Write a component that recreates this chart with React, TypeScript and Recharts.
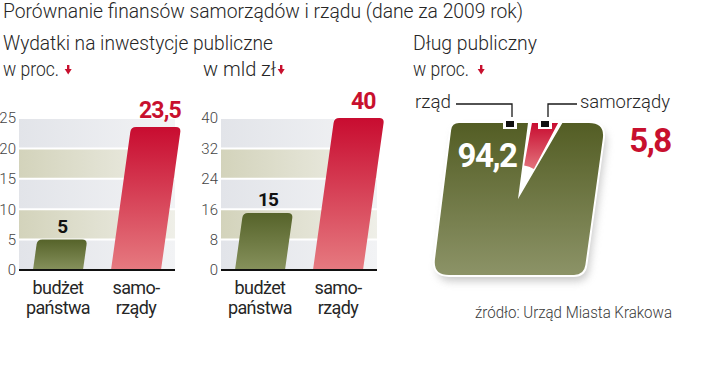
import { Bar, BarChart, CartesianGrid, Cell, LabelList, Pie, PieChart, XAxis, YAxis } from "recharts";

const CATEGORIES = ["budżet państwa", "samorządy"];
const CATEGORY_LINES = [["budżet", "państwa"], ["samo-", "rządy"]];
const SHARE_VALUES = [5, 23.5];
const SHARE_TICKS = [0, 5, 10, 15, 20, 25];
const AMOUNT_VALUES = [15, 40];
const AMOUNT_TICKS = [0, 8, 16, 24, 32, 40];
const DEBT_NAMES = ["samorządy", "rząd"];
const DEBT_VALUES = [5.8, 94.2];

const RED = "#c8102e";
const INK = "#262626";
const FONT = "Roboto, 'Liberation Sans', sans-serif";
const SKEW = 0.14;

const shareData = CATEGORIES.map((name, i) => ({ name, value: SHARE_VALUES[i] }));
const amountData = CATEGORIES.map((name, i) => ({ name, value: AMOUNT_VALUES[i] }));
const debtData = DEBT_NAMES.map((name, i) => ({ name, value: DEBT_VALUES[i] }));

const fmt = (v: number) => String(v).replace(".", ",");

// rounded polygon, used for the tilted "pie" tile
function roundedPath(pts: number[][], radii: number[], ox = 0, oy = 0) {
  const n = pts.length;
  let d = "";
  for (let i = 0; i < n; i++) {
    const [cx, cy] = pts[i];
    const [px, py] = pts[(i - 1 + n) % n];
    const [nx, ny] = pts[(i + 1) % n];
    const r = radii[i];
    const l1 = Math.hypot(px - cx, py - cy);
    const l2 = Math.hypot(nx - cx, ny - cy);
    const ax = cx + ((px - cx) * r) / l1;
    const ay = cy + ((py - cy) * r) / l1;
    const bx = cx + ((nx - cx) * r) / l2;
    const by = cy + ((ny - cy) * r) / l2;
    d += `${i === 0 ? "M" : "L"}${ax + ox},${ay + oy} Q${cx + ox},${cy + oy} ${bx + ox},${by + oy} `;
  }
  return d + "Z";
}

const TILE = [
  [32, 23],
  [185, 23],
  [164, 175],
  [13, 175],
];
const TILE_R = [7, 16, 10, 16];
const PIE_LEFT = 420;
const PIE_TOP = 100;
const CHART_TOP = 70;

function SkewBar(props: any) {
  const { x, y, width, height, index } = props;
  if (!height || height <= 0) return null;
  const dx = height * SKEW;
  const r = 5;
  const bot = y + height;
  const tl = x + dx;
  const tr = x + width + dx;
  const d = `M${x},${bot} L${tl - r * SKEW},${y + r} Q${tl},${y} ${tl + r},${y} L${tr - r},${y} Q${tr},${y} ${tr - r * SKEW},${y + r} L${x + width},${bot} Z`;
  return <path d={d} fill={index === 0 ? "url(#barGreen)" : "url(#barRed)"} />;
}

function ValueLabel(props: any) {
  const { x, y, width, height, value, index } = props;
  const cx = x + width / 2 + height * SKEW + (index === 1 ? 4 : 0);
  return (
    <text
      x={cx}
      y={y - (index === 1 ? 9 : 7)}
      textAnchor="middle"
      fontFamily={FONT}
      fontWeight={700}
      fontSize={index === 1 ? 23 : 19}
      letterSpacing={-0.8}
      fill={index === 1 ? RED : "#111"}
    >
      {fmt(value)}
    </text>
  );
}

function CategoryTick(props: any) {
  const { x, y, index } = props;
  const lines = CATEGORY_LINES[index] || [];
  return (
    <g>
      {lines.map((t, i) => (
        <text key={t} x={x} y={y + 24 + i * 20} textAnchor="middle" fontFamily={FONT} fontSize={18} letterSpacing={-0.6} fill={INK}>
          {t}
        </text>
      ))}
    </g>
  );
}

function MiniBars({ data, ticks, max, left, width, axisWidth }: any) {
  return (
    <div style={{ position: "absolute", left, top: CHART_TOP }}>
      <BarChart width={width} height={250} data={data} margin={{ top: 48, right: 10, bottom: 0, left: 0 }}>
        <CartesianGrid
          vertical={false}
          stroke="#ffffff"
          strokeWidth={2}
          horizontalFill={["url(#bandGrey)", "url(#bandBeige)"]}
          fillOpacity={1}
        />
        <XAxis
          dataKey="name"
          axisLine={{ stroke: "#111", strokeWidth: 2 }}
          tickLine={false}
          tickSize={0}
          tickMargin={0}
          height={50}
          interval={0}
          tick={<CategoryTick />}
        />
        <YAxis
          domain={[0, max]}
          ticks={ticks}
          interval={0}
          width={axisWidth}
          axisLine={false}
          tickLine={false}
          tickSize={0}
          tickMargin={3}
          tick={{ fontFamily: FONT, fontSize: 15, fill: "#444", fontWeight: 300 }}
        />
        <Bar dataKey="value" barSize={50} shape={<SkewBar />} isAnimationActive={false}>
          <LabelList dataKey="value" content={<ValueLabel />} />
        </Bar>
      </BarChart>
    </div>
  );
}

function Arrow({ x, y }: { x: number; y: number }) {
  return (
    <g fill={RED}>
      <rect x={x - 1} y={y} width={2.4} height={5} />
      <path d={`M${x - 3.3},${y + 4} L${x + 3.7},${y + 4} L${x + 0.2},${y + 9.5} Z`} />
    </g>
  );
}

export default function App() {
  const tile = roundedPath(TILE, TILE_R);
  const tilePage = roundedPath(TILE, TILE_R, PIE_LEFT, PIE_TOP);
  return (
    <div style={{ position: "absolute", left: 0, top: 0, width: 720, height: 388, background: "#fff", overflow: "hidden" }}>
      <svg width={0} height={0} style={{ position: "absolute" }}>
        <defs>
          <linearGradient id="bandGrey" x1="0" y1="0" x2="1" y2="0">
            <stop offset="0" stopColor="#e2e4e9" />
            <stop offset="1" stopColor="#f2f3f5" />
          </linearGradient>
          <linearGradient id="bandBeige" x1="0" y1="0" x2="1" y2="0">
            <stop offset="0" stopColor="#d3d3bb" />
            <stop offset="1" stopColor="#efefe8" />
          </linearGradient>
          <linearGradient id="barGreen" x1="0" y1="0" x2="0" y2="1">
            <stop offset="0" stopColor="#56632a" />
            <stop offset="1" stopColor="#86915c" />
          </linearGradient>
          <linearGradient id="barRed" x1="0" y1="0" x2="0" y2="1">
            <stop offset="0" stopColor="#c80c30" />
            <stop offset="1" stopColor="#e67a80" />
          </linearGradient>
          <linearGradient id="pieGreen" gradientUnits="userSpaceOnUse" x1="0" y1="23" x2="0" y2="175">
            <stop offset="0" stopColor="#535d24" />
            <stop offset="1" stopColor="#8c9367" />
          </linearGradient>
          <linearGradient id="pieRed" gradientUnits="userSpaceOnUse" x1="0" y1="23" x2="0" y2="68">
            <stop offset="0" stopColor="#c80c30" />
            <stop offset="1" stopColor="#e2707a" />
          </linearGradient>
          <clipPath id="pieClip">
            <path d={tile} />
          </clipPath>
          <filter id="soft" x="-20%" y="-20%" width="140%" height="140%">
            <feGaussianBlur stdDeviation="4" />
          </filter>
        </defs>
      </svg>

      {/* tile shadow and white rim */}
      <svg width={720} height={388} style={{ position: "absolute", left: 0, top: 0 }}>
        <path d={tilePage} fill="#9a9a9a" opacity={0.55} filter="url(#soft)" transform="translate(3,6)" />
        <path d={tilePage} fill="#fff" stroke="#fff" strokeWidth={4} />
      </svg>

      <MiniBars data={shareData} ticks={SHARE_TICKS} max={25} left={0} width={185} axisWidth={19} />
      <MiniBars data={amountData} ticks={AMOUNT_TICKS} max={40} left={195} width={192} axisWidth={26} />

      <div style={{ position: "absolute", left: PIE_LEFT, top: PIE_TOP }}>
        <PieChart width={200} height={190} margin={{ top: 0, right: 0, bottom: 0, left: 0 }}>
          <Pie
            data={debtData}
            dataKey="value"
            nameKey="name"
            cx={98}
            cy={99}
            innerRadius={0}
            outerRadius={140}
            startAngle={81.5}
            endAngle={-278.5}
            paddingAngle={1}
            stroke="none"
            isAnimationActive={false}
          >
            {debtData.map((d, i) => (
              <Cell
                key={d.name}
                fill={i === 1 ? "url(#pieGreen)" : "transparent"}
                stroke="none"
                clipPath="url(#pieClip)"
                style={{ clipPath: "url(#pieClip)" }}
              />
            ))}
          </Pie>
          <Pie
            data={debtData}
            dataKey="value"
            nameKey="name"
            cx={98}
            cy={99}
            innerRadius={34}
            outerRadius={140}
            startAngle={79.6}
            endAngle={-280.4}
            paddingAngle={30}
            stroke="none"
            isAnimationActive={false}
          >
            {debtData.map((d, i) => (
              <Cell
                key={d.name}
                fill={i === 0 ? "url(#pieRed)" : "transparent"}
                stroke="none"
                clipPath="url(#pieClip)"
                style={{ clipPath: "url(#pieClip)" }}
              />
            ))}
          </Pie>
        </PieChart>
      </div>

      {/* titles, units, leaders */}
      <svg width={720} height={388} style={{ position: "absolute", left: 0, top: 0, pointerEvents: "none" }}>
        <g fontFamily={FONT} fill={INK} fontWeight={300}>
          <text x={3} y={18} fontSize={20} textLength={520} lengthAdjust="spacingAndGlyphs">
            Porównanie finansów samorządów i rządu (dane za 2009 rok)
          </text>
          <text x={3} y={50} fontSize={20} textLength={270} lengthAdjust="spacingAndGlyphs">
            Wydatki na inwestycje publiczne
          </text>
          <text x={413} y={50} fontSize={20} textLength={124} lengthAdjust="spacingAndGlyphs">
            Dług publiczny
          </text>
          <text x={3} y={76} fontSize={20} textLength={56} lengthAdjust="spacingAndGlyphs">
            w proc.
          </text>
          <text x={203} y={76} fontSize={20} textLength={73} lengthAdjust="spacingAndGlyphs">
            w mld zł
          </text>
          <text x={413} y={76} fontSize={20} textLength={56} lengthAdjust="spacingAndGlyphs">
            w proc.
          </text>
          <text x={415} y={108} fontSize={19} textLength={36} lengthAdjust="spacingAndGlyphs">
            {DEBT_NAMES[1]}
          </text>
          <text x={580} y={108} fontSize={19} textLength={90} lengthAdjust="spacingAndGlyphs">
            {DEBT_NAMES[0]}
          </text>
          <text x={475} y={318} fontSize={16} fill="#3a3a3a" textLength={197} lengthAdjust="spacingAndGlyphs">
            źródło: Urząd Miasta Krakowa
          </text>
        </g>
        <Arrow x={68} y={65} />
        <Arrow x={281} y={65} />
        <Arrow x={481} y={65} />

        <g stroke="#1a1a1a" strokeWidth={1.3} fill="none">
          <path d="M456,104 H512 V122" />
          <path d="M577,104 H548 V122" />
        </g>
        <rect x={503} y={117} width={14} height={12} fill="#fff" />
        <rect x={538} y={117} width={14} height={12} fill="#fff" />
        <rect x={506} y={121} width={8} height={6} fill="#111" />
        <rect x={541} y={121} width={8} height={6} fill="#111" />

        <text x={487} y={167} textAnchor="middle" fontFamily={FONT} fontWeight={700} fontSize={33} letterSpacing={-1.5} fill="#fff">
          {fmt(DEBT_VALUES[1])}
        </text>
        <text x={650} y={152} textAnchor="middle" fontFamily={FONT} fontWeight={700} fontSize={33} letterSpacing={-1.5} fill={RED}>
          {fmt(DEBT_VALUES[0])}
        </text>
      </svg>
    </div>
  );
}
